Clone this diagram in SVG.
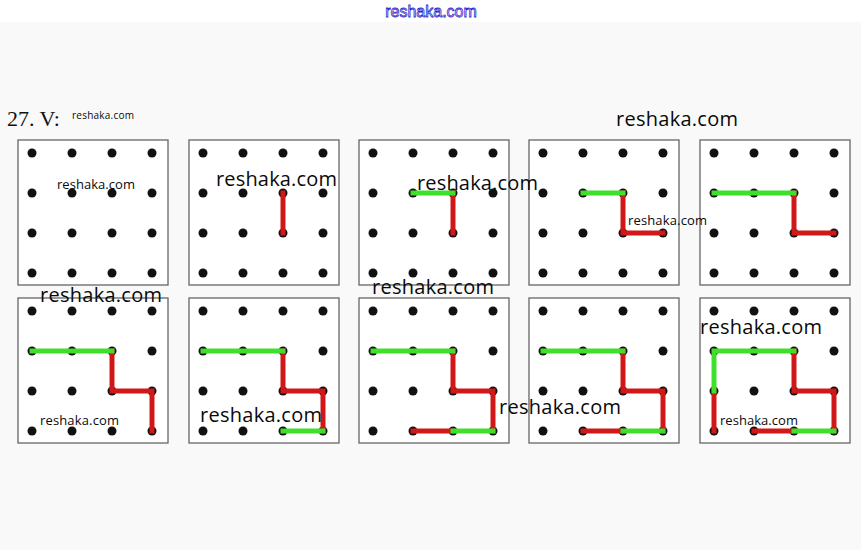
<svg xmlns="http://www.w3.org/2000/svg" xmlns:xlink="http://www.w3.org/1999/xlink" width="861" height="550" viewBox="0 0 861 550">
<style>
.box{fill:#fff;stroke:#666;stroke-width:1.3}
.dot{fill:#111}
.r{fill:none;stroke:#d01818;stroke-width:5;stroke-linecap:square;stroke-linejoin:miter}
.g{fill:none;stroke:#3ee02c;stroke-width:5;stroke-linecap:square;stroke-linejoin:miter}
.wm{font-family:"Open Sans","Noto Sans",sans-serif;fill:#0a0a0a;font-weight:500}
.big{font-size:20px}
.sm{font-size:13px}
</style>
<defs>
<g id="grid">
<rect class="box" x="-14" y="-13" width="150" height="145"/>
<circle class="dot" cx="0" cy="0" r="4.5"/><circle class="dot" cx="40" cy="0" r="4.5"/><circle class="dot" cx="80" cy="0" r="4.5"/><circle class="dot" cx="120" cy="0" r="4.5"/>
<circle class="dot" cx="0" cy="40" r="4.5"/><circle class="dot" cx="40" cy="40" r="4.5"/><circle class="dot" cx="80" cy="40" r="4.5"/><circle class="dot" cx="120" cy="40" r="4.5"/>
<circle class="dot" cx="0" cy="80" r="4.5"/><circle class="dot" cx="40" cy="80" r="4.5"/><circle class="dot" cx="80" cy="80" r="4.5"/><circle class="dot" cx="120" cy="80" r="4.5"/>
<circle class="dot" cx="0" cy="120" r="4.5"/><circle class="dot" cx="40" cy="120" r="4.5"/><circle class="dot" cx="80" cy="120" r="4.5"/><circle class="dot" cx="120" cy="120" r="4.5"/>
</g>
</defs>
<rect x="0" y="0" width="861" height="550" fill="#f9f9f9"/>
<rect x="0" y="0" width="861" height="22" fill="#fff"/>
<text x="431" y="17" text-anchor="middle" font-family="Liberation Sans, sans-serif" font-size="16" fill="#fff" stroke="#2a2ad0" stroke-width="0.8">reshaka.com</text>
<text x="7" y="126" font-family="Liberation Serif, serif" font-size="22" fill="#111">27. V:</text>
<text x="72" y="119" class="wm" font-size="10" textLength="62">reshaka.com</text>

<g id="panel1"><use xlink:href="#grid" x="32" y="153"/></g>
<g id="panel2"><use xlink:href="#grid" x="203" y="153"/></g>
<g id="panel3"><use xlink:href="#grid" x="373" y="153"/></g>
<g id="panel4"><use xlink:href="#grid" x="543" y="153"/></g>
<g id="panel5"><use xlink:href="#grid" x="714" y="153"/></g>
<g id="panel6"><use xlink:href="#grid" x="32" y="311"/></g>
<g id="panel7"><use xlink:href="#grid" x="203" y="311"/></g>
<g id="panel8"><use xlink:href="#grid" x="373" y="311"/></g>
<g id="panel9"><use xlink:href="#grid" x="543" y="311"/></g>
<g id="panel10"><use xlink:href="#grid" x="714" y="311"/></g>

<g id="connectors">
<path class="r" d="M283 193V233"/>
<path class="r" d="M453 193V233"/>
<path class="g" d="M413 193H453"/>
<path class="r" d="M623 193V233H663"/>
<path class="g" d="M583 193H623"/>
<path class="r" d="M794 193V233H834"/>
<path class="g" d="M714 193H794"/>
<path class="r" d="M112 351V391H152V431"/>
<path class="g" d="M32 351H112"/>
<path class="r" d="M283 351V391H323V431"/>
<path class="g" d="M203 351H283"/>
<path class="g" d="M283 431H323"/>
<path class="r" d="M453 351V391H493V431"/>
<path class="r" d="M413 431H453"/>
<path class="g" d="M373 351H453"/>
<path class="g" d="M453 431H493"/>
<path class="r" d="M623 351V391H663V431"/>
<path class="r" d="M583 431H623"/>
<path class="g" d="M543 351H623"/>
<path class="g" d="M623 431H663"/>
<path class="r" d="M794 351V391H834V431"/>
<path class="r" d="M754 431H794"/>
<path class="r" d="M714 391V431"/>
<path class="g" d="M714 391V351H794"/>
<path class="g" d="M794 431H834"/>
</g>

<g id="watermarks">
<text class="wm big" x="616" y="126" textLength="122">reshaka.com</text>
<text class="wm sm" x="57" y="189" textLength="78">reshaka.com</text>
<text class="wm big" x="216" y="186" textLength="121">reshaka.com</text>
<text class="wm big" x="417" y="190" textLength="121">reshaka.com</text>
<text class="wm sm" x="628" y="225" textLength="79">reshaka.com</text>
<text class="wm big" x="40" y="302" textLength="122">reshaka.com</text>
<text class="wm big" x="372" y="294" textLength="122">reshaka.com</text>
<text class="wm sm" x="40" y="425" textLength="79">reshaka.com</text>
<text class="wm big" x="200" y="422" textLength="122">reshaka.com</text>
<text class="wm big" x="499" y="414" textLength="122">reshaka.com</text>
<text class="wm big" x="700" y="334" textLength="122">reshaka.com</text>
<text class="wm sm" x="720" y="425" textLength="78">reshaka.com</text>
</g>
</svg>
